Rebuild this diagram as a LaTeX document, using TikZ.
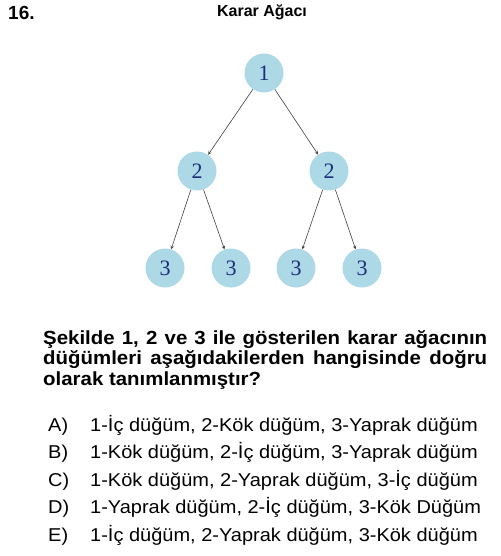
\documentclass[tikz,border=0pt]{standalone}
\usepackage{fontspec}
\setmainfont{Liberation Sans}
\newfontfamily\rakam{Liberation Serif}
\newfontfamily\genis[FakeStretch=1.075]{Liberation Sans}
\usetikzlibrary{shapes}
\definecolor{dugumrenk}{RGB}{173,216,230}
\definecolor{rakamrenk}{RGB}{28,48,120}
\tikzstyle{dg}=[circle,fill=dugumrenk,minimum size=39pt,inner sep=0pt,text=rakamrenk,font=\rakam\fontsize{22}{22}\selectfont]
\tikzstyle{ok}=[->,>=stealth,draw=black!75,line width=0.6pt]
\tikzstyle{yazi}=[anchor=base west,inner sep=0pt,font=\genis\fontsize{18.6}{18.6}\selectfont]
\tikzstyle{soru}=[anchor=base west,inner sep=0pt,font=\genis\bfseries\fontsize{19}{19}\selectfont]

\begin{document}
\begin{tikzpicture}[x=1pt,y=-1pt]
\useasboundingbox (0,0) rectangle (500,556);
\node[anchor=base west,inner sep=0pt,font=\bfseries\fontsize{19}{19}\selectfont] (no) at (8,20) {16.};
\node[anchor=base,inner sep=0pt,font=\bfseries\fontsize{16}{16}\selectfont] (baslik) at (262,17) {Karar Ağacı};
% agac
\node[dg] (k) at (264,73) {1};
\node[dg] (i1) at (197,171) {2};
\node[dg] (i2) at (329,171) {2};
\node[dg] (y1) at (165,268) {3};
\node[dg] (y2) at (231,268) {3};
\node[dg] (y3) at (296,268) {3};
\node[dg] (y4) at (362,268) {3};
\draw[ok] (k) -- (i1); \draw[ok] (k) -- (i2);
\draw[ok] (i1) -- (y1); \draw[ok] (i1) -- (y2);
\draw[ok] (i2) -- (y3); \draw[ok] (i2) -- (y4);
% soru
\node[soru] (s1) at (43,344) {\makebox[444pt][s]{Şekilde 1, 2 ve 3 ile gösterilen karar ağacının}};
\node[soru] (s2) at (43,364.5) {\makebox[444pt][s]{düğümleri aşağıdakilerden hangisinde doğru}};
\node[soru] (s3) at (43,385) {olarak tanımlanmıştır?};
% secenekler
\node[yazi] (ha) at (48,431.5) {A)}; \node[yazi] (a) at (90,431.5) {1-İç düğüm, 2-Kök düğüm, 3-Yaprak düğüm};
\node[yazi] (hb) at (48,458.5) {B)}; \node[yazi] (b) at (90,458.5) {1-Kök düğüm, 2-İç düğüm, 3-Yaprak düğüm};
\node[yazi] (hc) at (48,486.5) {C)}; \node[yazi] (c) at (90,486.5) {1-Kök düğüm, 2-Yaprak düğüm, 3-İç düğüm};
\node[yazi] (hd) at (48,513.5) {D)}; \node[yazi] (d) at (90,513.5) {1-Yaprak düğüm, 2-İç düğüm, 3-Kök Düğüm};
\node[yazi] (he) at (48,541.5) {E)}; \node[yazi] (e) at (90,541.5) {1-İç düğüm, 2-Yaprak düğüm, 3-Kök düğüm};
\end{tikzpicture}
\end{document}
